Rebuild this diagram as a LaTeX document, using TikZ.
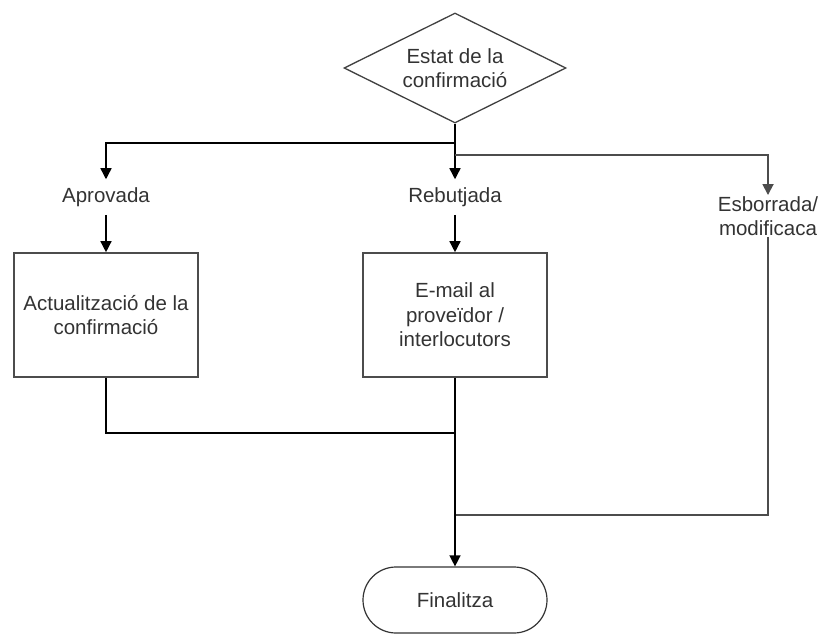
\documentclass[tikz,border=0pt]{standalone}
\usepackage{fontspec}
\setmainfont{Liberation Sans}
\usetikzlibrary{shapes.geometric,arrows.meta}

\begin{document}
\begin{tikzpicture}
  [x=1pt,y=-1pt,
   every node/.style={font=\fontsize{20.5}{24.5}\selectfont,text=black!80,align=center},
   decision/.style={diamond,aspect=2,draw=black!75,line width=1.3pt,minimum width=222pt,minimum height=110pt,inner sep=0pt},
   task/.style={rectangle,draw=black!70,line width=1.6pt,minimum width=184pt,minimum height=124pt,inner sep=2pt},
   term/.style={rectangle,rounded corners=33pt,draw=black!80,line width=1.2pt,minimum width=184pt,minimum height=66pt},
   tag/.style={inner sep=8pt},
   arr/.style={-{Triangle[length=11pt,width=11pt]}},
   link/.style={draw=black,line width=1.4pt}]
  \useasboundingbox (0,0) rectangle (819,635);

  \node[decision] (dec) at (455,68) {Estat de la\\confirmació};
  \node[tag] (apr) at (106,197) {Aprovada};
  \node[tag] (reb) at (455,197) {Rebutjada};
  \node[inner sep=1pt] (esb) at (768,216) {Esborrada/\\modificaca};
  \node[task] (act) at (106,315) {Actualització de la\\confirmació};
  \node[task] (mail) at (455,315) {E-mail al\\proveïdor /\\interlocutors};
  \node[term] (fin) at (455,600) {Finalitza};

  \coordinate (j1) at (455,143);
  \coordinate (j2) at (455,155);
  \coordinate (j3) at (455,433);
  \coordinate (j4) at (455,515);

  \draw[link,arr] (dec.south) -- (reb.north);
  \draw[link,arr] (j1) -| (apr.north);
  \draw[link,draw=black!70,line width=1.8pt,arr] (j2) -| (esb.north);
  \draw[link,arr] (apr.south) -- (act.north);
  \draw[link,arr] (reb.south) -- (mail.north);
  \draw[link] (act.south) |- (j3);
  \draw[link,draw=black!70,line width=1.8pt] (esb.south) |- (j4);
  \draw[link,arr] (mail.south) -- (fin.north);

\end{tikzpicture}
\end{document}
